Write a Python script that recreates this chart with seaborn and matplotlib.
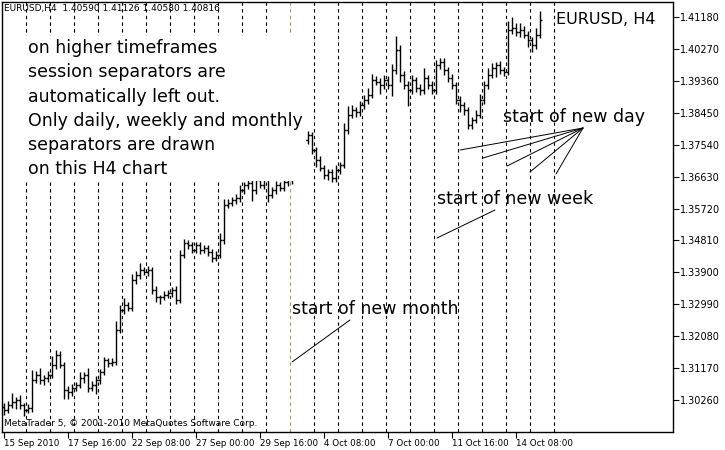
import numpy as np
import matplotlib.pyplot as plt
from matplotlib.lines import Line2D
import seaborn as sns

sns.set_style("white")
plt.rcParams['font.family'] = ['DejaVu Sans']
plt.rcParams['text.color'] = 'black'

# H4 closes, one day = 6 bars
closes = [1.2998, 1.3012, 1.3021, 1.3026, 1.3012, 1.2998,
          1.3004, 1.3083, 1.3098, 1.3083, 1.3089, 1.3098,
          1.3126, 1.3155, 1.3126, 1.3055, 1.3049, 1.3061,
          1.3069, 1.3089, 1.3098, 1.3061, 1.3069, 1.3083,
          1.3106, 1.3140, 1.3132, 1.3135, 1.3226, 1.3283,
          1.3297, 1.3289, 1.3368, 1.3383, 1.3397, 1.3391,
          1.3397, 1.3340, 1.3320, 1.3320, 1.3326, 1.3331,
          1.3340, 1.3311, 1.3440, 1.3474, 1.3468, 1.3454,
          1.3468, 1.3454, 1.3460, 1.3448, 1.3431, 1.3440,
          1.3482, 1.3582, 1.3588, 1.3596, 1.3602, 1.3625,
          1.3639, 1.3645, 1.3625, 1.3653, 1.3639, 1.3668,
          1.3611, 1.3625, 1.3639, 1.3631, 1.3648, 1.3653,
          1.3739, 1.3767, 1.3782, 1.3767, 1.3782, 1.3739,
          1.3710, 1.3688, 1.3668, 1.3676, 1.3659, 1.3682,
          1.3696, 1.3796, 1.3839, 1.3853, 1.3847, 1.3867,
          1.3881, 1.3896, 1.3938, 1.3933, 1.3924, 1.3938,
          1.3924, 1.3967, 1.4024, 1.3953, 1.3924, 1.3910,
          1.3938, 1.3916, 1.3910, 1.3944, 1.3924, 1.3910,
          1.3981, 1.3990, 1.3967, 1.3944, 1.3924, 1.3881,
          1.3867, 1.3853, 1.3810, 1.3824, 1.3839, 1.3881,
          1.3924, 1.3953, 1.3973, 1.3981, 1.3967, 1.3961,
          1.4081, 1.4087, 1.4075, 1.4081, 1.4067, 1.4052,
          1.4038, 1.4067, 1.4109]
open0 = 1.3005
# wick extensions in pips above / below the body
hi_ext = [12, 10, 25, 8, 14, 6, 10, 30, 12, 20, 8, 10,
          25, 15, 10, 8, 12, 10, 9, 18, 7, 20, 10, 12,
          8, 10, 6, 12, 25, 15, 20, 10, 18, 12, 20, 8,
          10, 8, 12, 6, 10, 9, 8, 10, 15, 12, 8, 10,
          8, 10, 7, 9, 10, 12, 20, 18, 10, 8, 12, 15,
          10, 12, 8, 14, 9, 12, 10, 8, 12, 10, 9, 10,
          20, 15, 18, 10, 12, 8, 10, 12, 9, 10, 8, 14,
          10, 20, 25, 15, 10, 12, 15, 20, 18, 12, 10, 14,
          12, 18, 40, 15, 10, 12, 14, 10, 12, 30, 10, 12,
          15, 12, 10, 8, 12, 10, 12, 10, 8, 10, 14, 18,
          12, 20, 15, 10, 12, 10, 25, 30, 15, 20, 12, 10,
          10, 20, 25]
lo_ext = [15, 10, 8, 20, 12, 18, 10, 12, 8, 10, 15, 12,
          10, 12, 8, 25, 20, 12, 10, 8, 15, 12, 10, 25,
          10, 8, 12, 10, 8, 10, 12, 10, 8, 10, 12, 8,
          10, 12, 15, 20, 10, 8, 12, 10, 8, 10, 12, 8,
          10, 12, 8, 10, 12, 8, 10, 12, 8, 10, 12, 10,
          10, 12, 30, 10, 8, 12, 20, 10, 12, 8, 10, 12,
          10, 12, 8, 15, 10, 12, 20, 10, 12, 15, 10, 12,
          10, 8, 12, 10, 15, 12, 10, 12, 8, 10, 25, 12,
          10, 30, 12, 20, 10, 45, 10, 12, 15, 10, 12, 10,
          12, 10, 15, 12, 10, 12, 20, 15, 12, 10, 8, 10,
          10, 12, 8, 25, 10, 12, 8, 10, 12, 15, 10, 20,
          20, 10, 8]

yticks = [1.30260, 1.31170, 1.32080, 1.32990, 1.33900, 1.34810,
          1.35720, 1.36630, 1.37540, 1.38450, 1.39360, 1.40270, 1.41180]
xtick_pos = [0, 16, 32, 48, 64, 80, 96, 112, 128]
xtick_labels = ["15 Sep 2010", "17 Sep 16:00", "22 Sep 08:00", "27 Sep 00:00",
                "29 Sep 16:00", "4 Oct 08:00", "7 Oct 00:00", "11 Oct 16:00",
                "14 Oct 08:00"]
n_days = 23
month_day = 11

fig = plt.figure(figsize=(7.25, 4.5), dpi=100)
ax = fig.add_axes([2/725, 18/450, 671/725, 430/450])

closes = np.array(closes)
opens = np.concatenate([[open0], closes[:-1]])
highs = np.maximum(opens, closes) + np.array(hi_ext) * 0.0001
lows = np.minimum(opens, closes) - np.array(lo_ext) * 0.0001
idx = np.arange(len(closes))

# separators
for k in range(n_days):
    c = '#a89a3c' if k == month_day else 'black'
    ax.axvline(5.5 + 6 * k, color=c, lw=0.8, ls=(0, (3, 3)))

ax.vlines(idx, lows, highs, color='black', lw=1)
ax.hlines(opens, idx - 0.5, idx, color='black', lw=1)
ax.hlines(closes, idx, idx + 0.5, color='black', lw=1)

ax.set_xlim(-0.5, 167.25)
ax.set_ylim(1.2935, 1.4161)
ax.yaxis.tick_right()
ax.set_yticks(yticks)
ax.set_yticklabels([f"{v:.5f}" for v in yticks], fontsize=7)
ax.set_xticks(xtick_pos)
ax.set_xticklabels(xtick_labels, fontsize=6.3, ha='left')
ax.tick_params(axis='both', length=4, width=0.8, color='black', direction='out',
               bottom=True, right=True, pad=1, labelcolor='black')
for s in ax.spines.values():
    s.set_color('black')
    s.set_linewidth(1)

def fx(x):
    return x / 725
def fy(y):
    return 1 - y / 450

fig.text(fx(4), fy(9), "EURUSD,H4  1.40590 1.41126 1.40580 1.40816", fontsize=6.5, va='center')
fig.text(fx(4), fy(424), "MetaTrader 5, © 2001-2010 MetaQuotes Software Corp.", fontsize=6.5, va='center')
fig.text(fx(556), fy(19), "EURUSD, H4", fontsize=11.5, va='center')

block = "\n".join(["on higher timeframes", "session separators are",
                   "automatically left out.", "Only daily, weekly and monthly",
                   "separators are drawn", "on this H4 chart"])
fig.text(fx(28), fy(39), block, fontsize=12.5, va='top', linespacing=1.45,
         bbox=dict(facecolor='white', edgecolor='none', pad=2))

fig.text(fx(503), fy(117), "start of new day", fontsize=12.5, va='center')
fig.text(fx(437), fy(199), "start of new week", fontsize=12.5, va='center')
fig.text(fx(292), fy(309), "start of new month", fontsize=12.5, va='center')

for (x0, y0) in [(460, 150), (483, 158), (507, 166), (530, 172), (556, 174)]:
    fig.add_artist(Line2D([fx(583), fx(x0)], [fy(128), fy(y0)], color='black', lw=0.7))
fig.add_artist(Line2D([fx(437), fx(495)], [fy(238), fy(210)], color='black', lw=0.7))
fig.add_artist(Line2D([fx(292), fx(350)], [fy(362), fy(320)], color='black', lw=0.7))

fig.savefig("out.png", dpi=100, facecolor='white')
